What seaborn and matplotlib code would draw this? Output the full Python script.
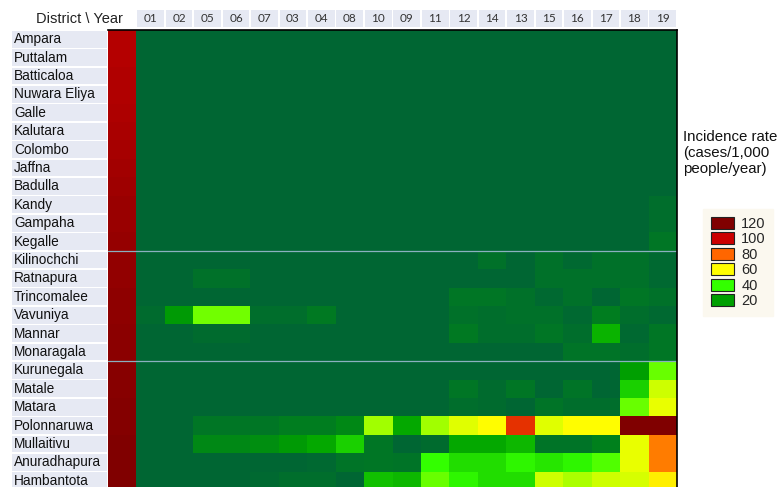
import numpy as np
import pandas as pd
import seaborn as sns
import matplotlib.pyplot as plt
from matplotlib.colors import LinearSegmentedColormap
from matplotlib.patches import Patch, Rectangle

districts = ["Ampara", "Puttalam", "Batticaloa", "Nuwara Eliya", "Galle", "Kalutara",
             "Colombo", "Jaffna", "Badulla", "Kandy", "Gampaha", "Kegalle",
             "Kilinochchi", "Ratnapura", "Trincomalee", "Vavuniya", "Mannar",
             "Monaragala", "Kurunegala", "Matale", "Matara", "Polonnaruwa",
             "Mullaitivu", "Anuradhapura", "Hambantota"]
years = ["01", "02", "05", "06", "07", "03", "04", "08", "10", "09",
         "11", "12", "14", "13", "15", "16", "17", "18", "19"]

# shade of the unlabelled first column (one value per district)
rank_shade = [106, 106, 107, 107, 108, 109, 110, 111, 112, 113, 113, 114, 115,
              115, 116, 116, 117, 117, 118, 118, 119, 119, 120, 120, 120]

rates = [
    [0, 0, 0, 0, 0, 0, 0, 0, 0, 0, 0, 0, 0, 0, 0, 0, 0, 0, 0],
    [0, 0, 0, 0, 0, 0, 0, 0, 0, 0, 0, 0, 0, 0, 0, 0, 0, 0, 0],
    [0, 0, 0, 0, 0, 0, 0, 0, 0, 0, 0, 0, 0, 0, 0, 0, 0, 0, 0],
    [0, 0, 0, 0, 0, 0, 0, 0, 0, 0, 0, 0, 0, 0, 0, 0, 0, 0, 0],
    [0, 0, 0, 0, 0, 0, 0, 0, 0, 0, 0, 0, 0, 0, 0, 0, 0, 0, 0],
    [0, 0, 0, 0, 0, 0, 0, 0, 0, 0, 0, 0, 0, 0, 0, 0, 0, 0, 0],
    [0, 0, 0, 0, 0, 0, 0, 0, 0, 0, 0, 0, 0, 0, 0, 0, 0, 0, 0],
    [0, 0, 0, 0, 0, 0, 0, 0, 0, 0, 0, 0, 0, 0, 0, 0, 0, 0, 0],
    [0, 0, 0, 0, 0, 0, 0, 0, 0, 0, 0, 0, 0, 0, 0, 0, 0, 0, 0],
    [0, 0, 0, 0, 0, 0, 0, 0, 0, 0, 0, 0, 0, 0, 0, 0, 0, 0, 3],
    [0, 0, 0, 0, 0, 0, 0, 0, 0, 0, 0, 0, 0, 0, 0, 0, 0, 0, 3],
    [0, 0, 0, 0, 0, 0, 0, 0, 0, 0, 0, 0, 0, 0, 0, 0, 0, 0, 6],
    [0, 0, 0, 0, 0, 0, 0, 0, 0, 0, 0, 0, 4, 0, 4, 1, 4, 4, 1],
    [0, 0, 4, 4, 0, 0, 0, 0, 0, 0, 0, 0, 0, 0, 4, 4, 4, 4, 1],
    [0, 0, 0, 0, 0, 0, 0, 0, 0, 0, 0, 6, 6, 4, 1, 4, 0, 6, 4],
    [2, 18, 46, 46, 3, 3, 7, 0, 0, 0, 0, 4, 3, 4, 4, 1, 8, 3, 1],
    [0, 0, 2, 2, 0, 0, 0, 0, 0, 0, 0, 7, 3, 3, 6, 3, 24, 1, 6],
    [0, 0, 0, 0, 0, 0, 0, 0, 0, 0, 0, 0, 0, 0, 0, 5, 5, 3, 6],
    [0, 0, 0, 0, 0, 0, 0, 0, 0, 0, 0, 0, 0, 0, 0, 0, 0, 20, 45],
    [0, 0, 0, 0, 0, 0, 0, 0, 0, 0, 0, 6, 2, 6, 0, 5, 0, 30, 55],
    [0, 0, 0, 0, 0, 0, 0, 0, 0, 0, 0, 3, 2, 0, 5, 3, 3, 45, 58],
    [0, 0, 6, 6, 6, 8, 8, 12, 51, 22, 51, 57, 60, 90, 57, 60, 60, 120, 120],
    [0, 0, 12, 12, 14, 18, 22, 30, 6, 0, 2, 22, 22, 25, 5, 5, 9, 58, 77],
    [0, 0, 0, 0, 0, 0, 1, 5, 6, 5, 40, 33, 33, 38, 35, 38, 43, 58, 77],
    [0, 0, 0, 0, 1, 3, 3, 0, 27, 25, 45, 38, 33, 33, 55, 52, 55, 56, 62],
]

legend_levels = [120, 100, 80, 60, 40, 20]
scale_stops = [0, 20, 40, 60, 80, 100, 120]
scale_colors = ["#006633", "#00a000", "#33ff00", "#ffff00", "#ff6600", "#cc0000", "#800000"]

cmap = LinearSegmentedColormap.from_list(
    "incidence", list(zip(np.array(scale_stops) / 120, scale_colors)))

df = pd.DataFrame(rates, index=districts, columns=years)
df.insert(0, "", rank_shade)

sns.set_theme(style="white")
plt.rcParams['font.family'] = ['Liberation Sans', 'DejaVu Sans']

fig = plt.figure(figsize=(7.8, 4.87), dpi=100)
ax = fig.add_axes([108 / 780, -3 / 487, 569 / 780, 460 / 487])
sns.heatmap(df, cmap=cmap, vmin=0, vmax=120, cbar=False, ax=ax,
            xticklabels=True, yticklabels=True)
ax.set_xlabel("")
ax.set_ylabel("")

# column header boxes and row label boxes
box_col = "#e6e9f3"
for i in range(1, df.shape[1]):
    ax.add_patch(Rectangle((i + 0.03, -1.08), 0.94, 0.92, fc=box_col, ec="none",
                           clip_on=False, zorder=0.5))
for j in range(df.shape[0]):
    ax.add_patch(Rectangle((-3.37, j + 0.04), 3.33, 0.92, fc=box_col, ec="none",
                           clip_on=False, zorder=0.5))

ax.xaxis.tick_top()
ax.tick_params(axis="x", which="major", length=0, pad=4, labelsize=8.5, labelcolor="#333333")
for t in ax.get_xticklabels():
    t.set_family("Lato")
    t.set_rotation(0)
ax.tick_params(axis="y", which="major", length=0, pad=67.5, labelsize=9.8, labelcolor="#111111")
for t in ax.get_yticklabels():
    t.set_ha("left")
    t.set_rotation(0)

ax.set_xticks(np.arange(1.5, 20, 2), minor=True)
ax.set_yticks(np.arange(1.5, 24, 2), minor=True)
ax.tick_params(axis="x", which="minor", top=True, bottom=False, direction="in",
               length=3, width=1, color="black")
ax.tick_params(axis="y", which="minor", left=True, right=True, direction="in",
               length=3, width=1, color="black")

for side in ["top", "right"]:
    ax.spines[side].set_visible(True)
    ax.spines[side].set_color("black")
    ax.spines[side].set_linewidth(1.2)

ax.axhline(12, color="#8ab0bf", lw=0.9)
ax.axhline(18, color="#8ab0bf", lw=0.9)

fig.text(79 / 780, 1 - 19 / 487, "District \\ Year", ha="center", va="center",
         fontsize=10.5, color="#222222")

fig.text(683 / 780, 1 - 130 / 487, "Incidence rate\n(cases/1,000\npeople/year)",
         ha="left", va="top", fontsize=10.8, linespacing=1.18, color="#111111")

handles = [Patch(facecolor=cmap(v / 120), edgecolor="#222222", lw=0.8) for v in legend_levels]
leg = fig.legend(handles, [str(v) for v in legend_levels], loc="upper left",
                 bbox_to_anchor=(696 / 780, 1 - 202 / 487), frameon=True,
                 facecolor="#fbf8ef", edgecolor="#fbf8ef", fontsize=10.5,
                 handlelength=1.6, handleheight=0.9, handletextpad=0.5,
                 labelspacing=0.1, borderpad=0.5, fancybox=False)
leg.get_frame().set_alpha(1)

fig.savefig("out.png", dpi=100)
